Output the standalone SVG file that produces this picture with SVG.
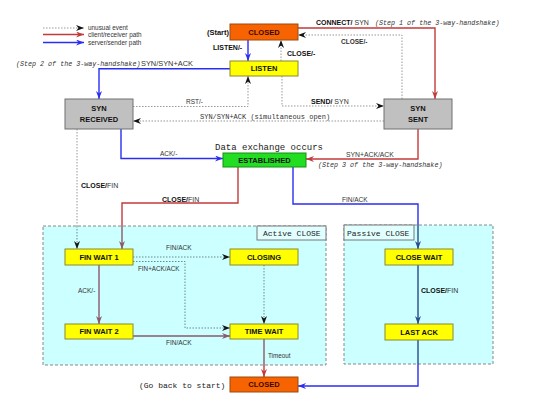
<svg xmlns="http://www.w3.org/2000/svg" width="540" height="407" viewBox="0 0 540 407">
<style>
.bg{fill:#ffffff}
.cont{fill:#ccffff;stroke:#888;stroke-width:1;stroke-dasharray:3 2}
.tag{fill:#e2ffff;stroke:#777;stroke-width:1}
.box{stroke-width:1}
.closed{fill:#f66300;stroke:#9a4a10}
.yel{fill:#ffff00;stroke:#8a8a30}
.gray{fill:#c0c0c0;stroke:#707070}
.green{fill:#22dd22;stroke:#159015}
.nt{font-family:"Liberation Sans",Arial,sans-serif;font-weight:bold;font-size:7.5px;fill:#111;text-anchor:middle}
.lb{font-family:"Liberation Sans",Arial,sans-serif;font-weight:bold;font-size:7px;fill:#111}
.lr{font-family:"Liberation Sans",Arial,sans-serif;font-size:6.5px;fill:#333}
.mi{font-family:"Liberation Mono","DejaVu Sans Mono",monospace;font-style:italic;font-size:6.7px;fill:#333}
.mo{font-family:"Liberation Mono","DejaVu Sans Mono",monospace;font-size:8px;fill:#222}
.red{stroke:#c23a3a;stroke-width:1.4;fill:none}
.redm{stroke:#8c5868;stroke-width:1.4;fill:none}
.blue{stroke:#2a2ef0;stroke-width:1.4;fill:none}
.bluem{stroke:#2a4a8c;stroke-width:1.4;fill:none}
.dot{stroke:#999;stroke-width:1;stroke-dasharray:1.5 1.5;fill:none}
.dotm{stroke:#6a8a8a;stroke-width:1;stroke-dasharray:1.5 1.5;fill:none}
</style>
<defs>
<marker id="aR" markerUnits="userSpaceOnUse" markerWidth="8" markerHeight="6" refX="8" refY="3" orient="auto"><path d="M0,0 L8,3 L0,6 L2.5,3 z" fill="#c23a3a"/></marker>
<marker id="aRm" markerUnits="userSpaceOnUse" markerWidth="8" markerHeight="6" refX="8" refY="3" orient="auto"><path d="M0,0 L8,3 L0,6 L2.5,3 z" fill="#8c5868"/></marker>
<marker id="aB" markerUnits="userSpaceOnUse" markerWidth="8" markerHeight="6" refX="8" refY="3" orient="auto"><path d="M0,0 L8,3 L0,6 L2.5,3 z" fill="#2a2ef0"/></marker>
<marker id="aBm" markerUnits="userSpaceOnUse" markerWidth="8" markerHeight="6" refX="8" refY="3" orient="auto"><path d="M0,0 L8,3 L0,6 L2.5,3 z" fill="#2a4a8c"/></marker>
<marker id="aK" markerUnits="userSpaceOnUse" markerWidth="8" markerHeight="6" refX="8" refY="3" orient="auto"><path d="M0,0 L8,3 L0,6 L2.5,3 z" fill="#111"/></marker>
</defs>
<rect class="bg" x="0" y="0" width="540" height="407"/>

<g id="containers">
<g id="active-close">
<rect class="cont" x="43" y="226" width="283" height="139"/>
<rect class="tag" x="257" y="226" width="69" height="14"/>
<text class="mo" x="263" y="236">Active CLOSE</text>
</g>
<g id="passive-close">
<rect class="cont" x="344" y="225" width="149" height="139"/>
<rect class="tag" x="344" y="225" width="70" height="15"/>
<text class="mo" x="347" y="235.5">Passive CLOSE</text>
</g>
</g>

<g id="legend">
<line class="dot" x1="43" y1="28" x2="84" y2="28" marker-end="url(#aK)"/>
<line class="red" x1="43" y1="34.5" x2="84" y2="34.5" marker-end="url(#aR)"/>
<line class="blue" x1="43" y1="42.5" x2="84" y2="42.5" marker-end="url(#aB)"/>
<text class="lr" x="88" y="30.3" style="font-size:6.4px">unusual event</text>
<text class="lr" x="88" y="36.8" style="font-size:6.4px">client/receiver path</text>
<text class="lr" x="88" y="44.8" style="font-size:6.4px">server/sender path</text>
</g>

<g id="connectors">
<!-- CLOSED -> LISTEN -->
<line class="blue" x1="248" y1="40" x2="248" y2="61" marker-end="url(#aB)"/>
<text class="lb" x="213" y="49.5">LISTEN/-</text>
<!-- LISTEN -> CLOSED -->
<line class="dot" x1="281" y1="61" x2="281" y2="40" marker-end="url(#aK)"/>
<text class="lb" x="287" y="55.5">CLOSE/-</text>
<!-- CLOSED -> SYN SENT -->
<path class="red" d="M298,28 H435 V99" marker-end="url(#aR)"/>
<text class="lb" x="316" y="24.5">CONNECT/<tspan style="font-weight:normal;fill:#333"> SYN</tspan></text>
<text class="mi" x="375" y="24.5">(Step 1 of the 3-way-handshake)</text>
<!-- SYN SENT -> CLOSED -->
<path class="dot" d="M402,99 V35 H298" marker-end="url(#aK)"/>
<text class="lb" x="341" y="44" style="font-size:6.5px;fill:#333">CLOSE/-</text>
<!-- LISTEN -> SYN RECEIVED -->
<path class="blue" d="M230,68.7 H99 V99" marker-end="url(#aB)"/>
<text class="mi" x="16" y="66">(Step 2 of the 3-way-handshake)</text>
<text class="lr" x="141" y="66" style="font-size:7.4px">SYN/SYN+ACK</text>
<!-- SYN RECEIVED -> LISTEN -->
<path class="dot" d="M133,106.5 H248 V76" marker-end="url(#aK)"/>
<text class="lr" x="186" y="104">RST/-</text>
<!-- LISTEN -> SYN SENT -->
<path class="dot" d="M282,76 V106 H384" marker-end="url(#aK)"/>
<text class="lb" x="311" y="103.5">SEND/<tspan style="font-weight:normal;fill:#333"> SYN</tspan></text>
<!-- SYN SENT -> SYN RECEIVED -->
<line class="dot" x1="384" y1="121" x2="133" y2="121" marker-end="url(#aK)"/>
<text class="mi" x="200" y="119" style="font-style:normal;font-size:7px">SYN/SYN+ACK (simultaneous open)</text>
<!-- SYN RECEIVED -> ESTABLISHED -->
<path class="blue" d="M121,129 V158.5 H223" marker-end="url(#aB)"/>
<text class="lr" x="160" y="155.5">ACK/-</text>
<!-- SYN SENT -> ESTABLISHED -->
<path class="red" d="M418,129 V159 H306" marker-end="url(#aR)"/>
<text class="lr" x="346" y="157" style="font-size:6.8px">SYN+ACK/ACK</text>
<text class="mi" x="318" y="166.5">(Step 3 of the 3-way-handshake)</text>
<!-- SYN RECEIVED -> FIN WAIT 1 -->
<line class="dot" x1="77" y1="129" x2="77" y2="226"/>
<line class="dotm" x1="77" y1="226" x2="77" y2="249" marker-end="url(#aK)"/>
<text class="lb" x="81" y="187.5">CLOSE/<tspan style="font-weight:normal;fill:#333">FIN</tspan></text>
<!-- ESTABLISHED -> FIN WAIT 1 -->
<path class="red" d="M238,167 V203 H122 V226"/>
<line class="redm" x1="122" y1="226" x2="122" y2="249" marker-end="url(#aRm)"/>
<text class="lb" x="162" y="201.5">CLOSE/<tspan style="font-weight:normal;fill:#333">FIN</tspan></text>
<!-- ESTABLISHED -> CLOSE WAIT -->
<path class="blue" d="M293,167 V204 H418 V225"/>
<line class="bluem" x1="418" y1="225" x2="418" y2="249" marker-end="url(#aBm)"/>
<text class="lr" x="342" y="201.5">FIN/ACK</text>
<!-- FIN WAIT 1 -> CLOSING -->
<line class="dotm" x1="133" y1="257" x2="230" y2="257" marker-end="url(#aK)"/>
<text class="lr" x="166" y="250">FIN/ACK</text>
<!-- FIN WAIT 1 -> TIME WAIT -->
<path class="dotm" d="M133,261.5 H185 V328 H230" marker-end="url(#aK)"/>
<text class="lr" x="138" y="271" style="font-size:6.3px">FIN+ACK/ACK</text>
<!-- FIN WAIT 1 -> FIN WAIT 2 -->
<line class="redm" x1="99" y1="265" x2="99" y2="324" marker-end="url(#aRm)"/>
<text class="lr" x="78" y="293">ACK/-</text>
<!-- FIN WAIT 2 -> TIME WAIT -->
<line class="redm" x1="133" y1="336" x2="230" y2="336" marker-end="url(#aRm)"/>
<text class="lr" x="166" y="345">FIN/ACK</text>
<!-- CLOSING -> TIME WAIT -->
<line class="dotm" x1="264" y1="265" x2="264" y2="324" marker-end="url(#aK)"/>
<!-- TIME WAIT -> CLOSED -->
<line class="redm" x1="264" y1="339" x2="264" y2="365"/>
<line class="red" x1="264" y1="365" x2="264" y2="377" marker-end="url(#aR)"/>
<text class="lr" x="268" y="357.5" style="font-size:6.3px">Timeout</text>
<!-- CLOSE WAIT -> LAST ACK -->
<line class="bluem" x1="418" y1="265" x2="418" y2="324" marker-end="url(#aBm)"/>
<text class="lb" x="421" y="293">CLOSE/<tspan style="font-weight:normal;fill:#333">FIN</tspan></text>
<!-- LAST ACK -> CLOSED -->
<line class="bluem" x1="418" y1="340" x2="418" y2="364"/>
<path class="blue" d="M418,364 V386 H298" marker-end="url(#aB)"/>
</g>

<g id="closed-top">
<rect class="box closed" x="230" y="24" width="68" height="16"/>
<text class="nt" x="264" y="34.7" style="fill:#3a0a00">CLOSED</text>
<text class="lb" x="229" y="34.5" style="text-anchor:end;font-size:7.5px">(Start)</text>
</g>
<g id="listen">
<rect class="box yel" x="230" y="61" width="68" height="15"/>
<text class="nt" x="264" y="71.3">LISTEN</text>
</g>
<g id="syn-received">
<rect class="box gray" x="65" y="99" width="68" height="30"/>
<text class="nt" x="99" y="111">SYN</text>
<text class="nt" x="99" y="122">RECEIVED</text>
</g>
<g id="syn-sent">
<rect class="box gray" x="384" y="99" width="68" height="30"/>
<text class="nt" x="418" y="111">SYN</text>
<text class="nt" x="418" y="122">SENT</text>
</g>
<g id="established">
<rect class="box green" x="223" y="153" width="83" height="14"/>
<text class="nt" x="264.5" y="162.7">ESTABLISHED</text>
<text class="mo" x="215" y="150" style="font-size:9px">Data exchange occurs</text>
</g>
<g id="fin-wait-1">
<rect class="box yel" x="65" y="249" width="68" height="16"/>
<text class="nt" x="99" y="259.7">FIN WAIT 1</text>
</g>
<g id="closing">
<rect class="box yel" x="230" y="249" width="68" height="16"/>
<text class="nt" x="264" y="259.7">CLOSING</text>
</g>
<g id="fin-wait-2">
<rect class="box yel" x="65" y="324" width="68" height="15"/>
<text class="nt" x="99" y="334.3">FIN WAIT 2</text>
</g>
<g id="time-wait">
<rect class="box yel" x="230" y="324" width="68" height="15"/>
<text class="nt" x="264" y="334.3">TIME WAIT</text>
</g>
<g id="close-wait">
<rect class="box yel" x="385" y="249" width="68" height="16"/>
<text class="nt" x="419" y="259.7">CLOSE WAIT</text>
</g>
<g id="last-ack">
<rect class="box yel" x="385" y="324" width="68" height="16"/>
<text class="nt" x="419" y="334.7">LAST ACK</text>
</g>
<g id="closed-bottom">
<rect class="box closed" x="230" y="377" width="68" height="15"/>
<text class="nt" x="264" y="387.3" style="fill:#3a0a00">CLOSED</text>
<text class="mo" x="139" y="388">(Go back to start)</text>
</g>
</svg>
